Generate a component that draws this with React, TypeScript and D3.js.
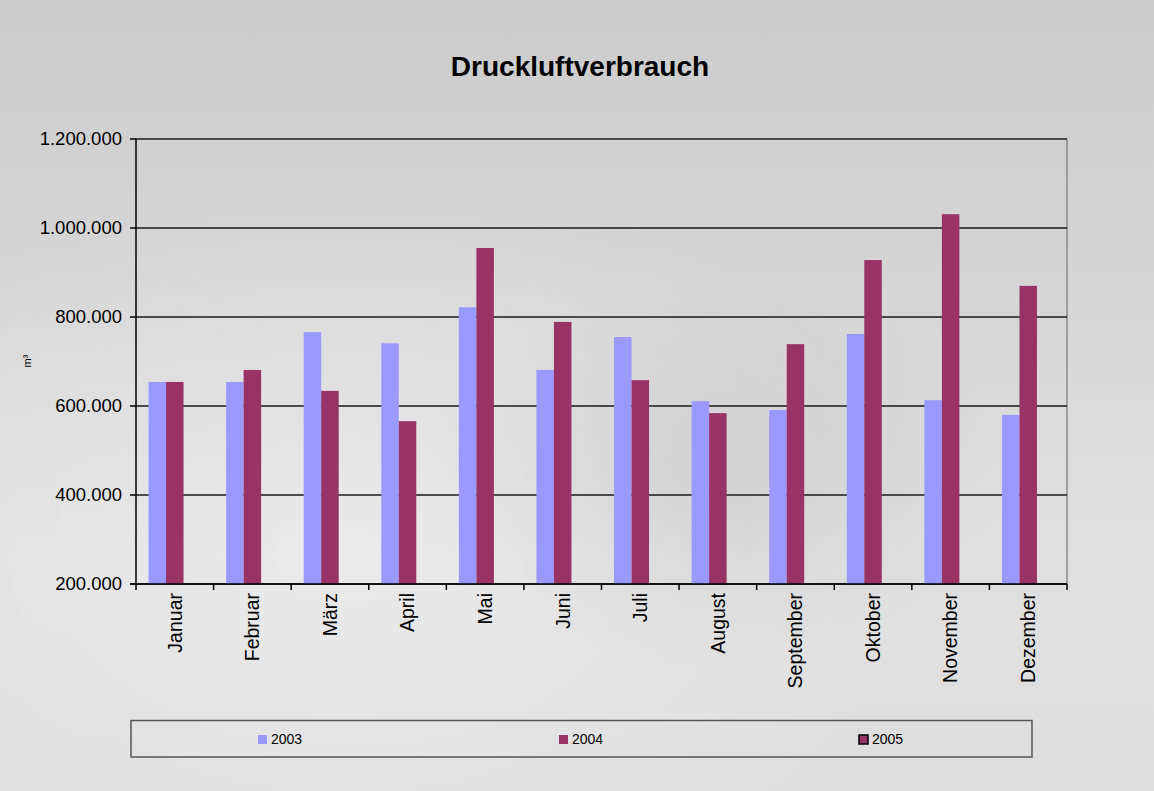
import React from "react";
import * as d3 from "d3";

const months = ["Januar", "Februar", "März", "April", "Mai", "Juni", "Juli", "August", "September", "Oktober", "November", "Dezember"];
const seriesNames = ["2003", "2004", "2005"];
const v2003 = [654000, 654000, 766000, 741000, 822000, 681000, 755000, 611000, 591000, 762000, 613000, 580000];
const v2004 = [654000, 681000, 634000, 566000, 955000, 789000, 658000, 584000, 739000, 928000, 1031000, 870000];
const v2005: (number | null)[] = [null, null, null, null, null, null, null, null, null, null, null, null];
const yTicks = [200000, 400000, 600000, 800000, 1000000, 1200000];
const colors = ["#9999FF", "#993366", "#993366"];

const W = 1154, H = 791;
const plot = { left: 136, right: 1067, top: 139, bottom: 584 };

const de = d3.formatLocale({ decimal: ",", thousands: ".", grouping: [3], currency: ["", "€"] });
const fmt = de.format(",.0f");

export default function App() {
  const x = d3.scaleBand<string>().domain(months).range([plot.left, plot.right]).padding(0);
  const bw = x.bandwidth();
  const barW = 17.5;
  const gap = bw - 3 * barW;
  const xs = d3.scaleBand<string>().domain(seriesNames).range([gap / 2, bw - gap / 2]).padding(0);
  const y = d3.scaleLinear().domain([200000, 1200000]).range([plot.bottom, plot.top]);
  const data = [v2003, v2004, v2005];
  const font = "'Liberation Sans', Arial, sans-serif";
  const legendItems = [
    { name: "2003", x: 258 },
    { name: "2004", x: 559 },
    { name: "2005", x: 859 },
  ];

  return (
    <svg width={W} height={H} style={{ position: "absolute", left: 0, top: 0 }} fontFamily={font}>
      <defs>
        <linearGradient id="bg" x1="0" y1="0" x2="0" y2="1">
          <stop offset="0" stopColor="#cccccc" />
          <stop offset="0.3" stopColor="#d4d4d4" />
          <stop offset="0.7" stopColor="#e0e0e0" />
          <stop offset="1" stopColor="#dedede" />
        </linearGradient>
        <radialGradient id="glow" cx="0.3" cy="0.7" r="0.5">
          <stop offset="0" stopColor="#ffffff" stopOpacity="0.35" />
          <stop offset="1" stopColor="#ffffff" stopOpacity="0" />
        </radialGradient>
        <radialGradient id="shade" cx="0.62" cy="0.6" r="0.25">
          <stop offset="0" stopColor="#b8b8b8" stopOpacity="0.35" />
          <stop offset="1" stopColor="#b8b8b8" stopOpacity="0" />
        </radialGradient>
      </defs>
      <rect x={0} y={0} width={W} height={H} fill="url(#bg)" />
      <rect x={0} y={0} width={W} height={H} fill="url(#glow)" />
      <rect x={0} y={0} width={W} height={H} fill="url(#shade)" />

      <text x={580} y={76} textAnchor="middle" fontSize={28} fontWeight="bold" fill="#000">Druckluftverbrauch</text>

      {/* right border */}
      <line x1={plot.right} x2={plot.right} y1={plot.top} y2={plot.bottom} stroke="#8a8a8a" strokeWidth={1.5} />

      {/* gridlines */}
      {yTicks.map((t) => (
        <line key={"g" + t} x1={plot.left} x2={plot.right} y1={y(t)} y2={y(t)} stroke="#1a1a1a" strokeWidth={1.5} />
      ))}

      {/* bars */}
      {data.map((vals, si) =>
        months.map((m, i) => {
          const v = vals[i];
          if (v == null) return null;
          const bx = (x(m) as number) + (xs(seriesNames[si]) as number);
          return <rect key={si + "-" + i} x={bx} y={y(v)} width={xs.bandwidth()} height={y(200000) - y(v)} fill={colors[si]} />;
        })
      )}

      {/* axes */}
      <line x1={plot.left} x2={plot.left} y1={plot.top} y2={plot.bottom} stroke="#000" strokeWidth={1.5} />
      <line x1={plot.left - 6} x2={plot.right} y1={plot.bottom} y2={plot.bottom} stroke="#000" strokeWidth={1.5} />
      {yTicks.map((t) => (
        <g key={"yt" + t}>
          <line x1={plot.left - 6} x2={plot.left} y1={y(t)} y2={y(t)} stroke="#000" strokeWidth={1.5} />
          <text x={plot.left - 14} y={y(t)} dy="0.35em" textAnchor="end" fontSize={18.5} fill="#000">{fmt(t)}</text>
        </g>
      ))}
      {months.map((m, i) => (
        <line key={"xt" + i} x1={(x(m) as number)} x2={(x(m) as number)} y1={plot.bottom} y2={plot.bottom + 6} stroke="#000" strokeWidth={1.5} />
      ))}
      <line x1={plot.right} x2={plot.right} y1={plot.bottom} y2={plot.bottom + 6} stroke="#000" strokeWidth={1.5} />
      {months.map((m) => {
        const cx = (x(m) as number) + bw / 2;
        return (
          <text key={"xl" + m} transform={`translate(${cx},${plot.bottom + 9}) rotate(-90)`} textAnchor="end" dy="0.35em" fontSize={19.5} fill="#000">{m}</text>
        );
      })}

      <text transform={`translate(27,361) rotate(-90)`} textAnchor="middle" dy="0.35em" fontSize={11} fill="#000">m³</text>

      {/* legend */}
      <rect x={131} y={720.5} width={901} height={36.5} fill="none" stroke="#555" strokeWidth={1.5} />
      {legendItems.map((it, i) => (
        <g key={"lg" + it.name}>
          <rect x={it.x} y={735} width={9} height={9} fill={colors[i]} stroke={i === 2 ? "#000" : "none"} strokeWidth={i === 2 ? 1.5 : 0} />
          <text x={it.x + 13} y={739.5} dy="0.35em" fontSize={14} fill="#000">{it.name}</text>
        </g>
      ))}
    </svg>
  );
}
